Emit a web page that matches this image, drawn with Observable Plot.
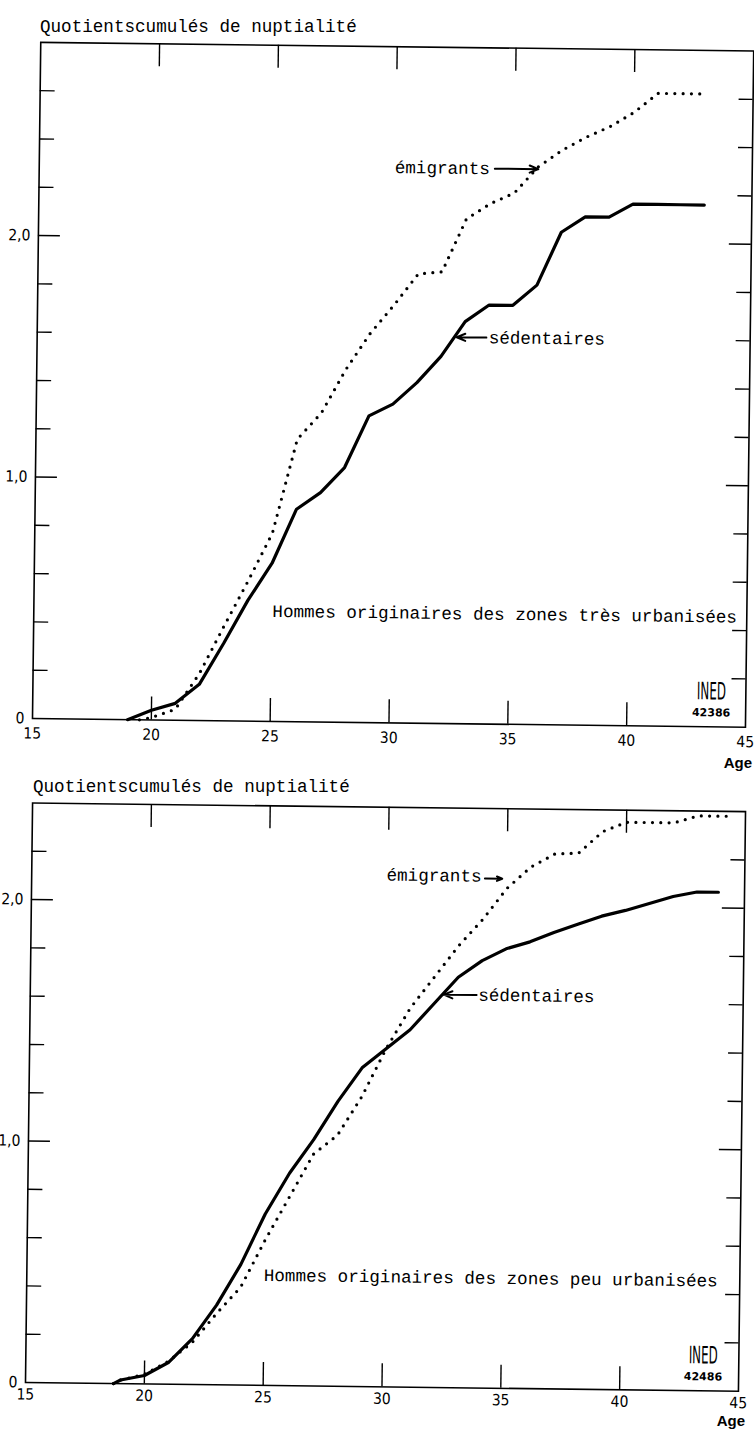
<!DOCTYPE html>
<html>
<head>
<meta charset="utf-8">
<script src="https://cdn.jsdelivr.net/npm/d3@7"></script>
<script src="https://cdn.jsdelivr.net/npm/@observablehq/plot@0.6"></script>
<style>
  html, body { margin: 0; padding: 0; background: #fff; }
  body { width: 754px; height: 1429px; position: relative; overflow: hidden; }
  .panel { position: absolute; width: 754px; height: 780px; transform-origin: 32px 718px; transform: rotate(0.7deg); }
  .panel svg { position: absolute; left: 0; top: 0; }
  .title { position: absolute; font-family: "Liberation Mono", "DejaVu Sans Mono", monospace; font-size: 17.6px; line-height: 20px; white-space: nowrap; color: #000; }
  .agelab { position: absolute; font-family: "Liberation Sans", Arial, sans-serif; font-weight: bold; font-size: 15px; line-height: 17px; color: #000; }
</style>
</head>
<body>
<script>
// ---------------- data ----------------
const TITLE = "Quotientscumulés de nuptialité";
const AGE_LABEL = "Age";
const AGE_TICKS = [15, 20, 25, 30, 35, 40, 45];
const AGE_INNER_TICKS = [20, 25, 30, 35, 40];
const Y_LABEL_TICKS = [0, 1, 2];
const Y_MAJOR_TICKS = [1, 2];
const Y_MINOR_TICKS_1 = [0.2, 0.4, 0.6, 0.8, 1.2, 1.4, 1.6, 1.8, 2.2, 2.4, 2.6];
const Y_MINOR_TICKS_2 = [0.2, 0.4, 0.6, 0.8, 1.2, 1.4, 1.6, 1.8, 2.2];
const SERIES_NAMES = ["sédentaires", "émigrants"];

// Panel 1 : zones très urbanisées
const ageSed1 = [19, 20, 21, 22, 23, 24, 25, 26, 27, 28, 29, 30, 31, 32, 33, 34, 35, 36, 37, 38, 39, 40, 41, 42, 43];
const qSed1   = [0, 0.04, 0.07, 0.15, 0.32, 0.50, 0.655, 0.88, 0.95, 1.055, 1.27, 1.32, 1.41, 1.52, 1.665, 1.735, 1.735, 1.82, 2.04, 2.105, 2.105, 2.16, 2.16, 2.16, 2.16];
const ageEmi1 = [19.5, 20, 21, 22, 23, 24, 25, 26, 27, 28, 29, 30, 31, 32, 33, 34, 35, 36, 37, 38, 39, 40, 41, 42, 43];
const qEmi1   = [0, 0.01, 0.045, 0.195, 0.39, 0.58, 0.78, 1.17, 1.28, 1.46, 1.61, 1.73, 1.86, 1.87, 2.09, 2.155, 2.20, 2.31, 2.38, 2.435, 2.48, 2.54, 2.62, 2.62, 2.62];

// Panel 2 : zones peu urbanisées
const ageSed2 = [18.7, 19, 20, 21, 22, 23, 24, 25, 26, 27, 28, 29, 30, 31, 32, 33, 34, 35, 36, 37, 38, 39, 40, 41, 42, 43, 43.9];
const qSed2   = [0, 0.015, 0.035, 0.09, 0.19, 0.33, 0.50, 0.71, 0.88, 1.02, 1.18, 1.32, 1.40, 1.48, 1.59, 1.70, 1.77, 1.82, 1.85, 1.89, 1.925, 1.96, 1.985, 2.015, 2.045, 2.065, 2.065];
const ageEmi2 = [18.7, 19, 20, 21, 22, 23, 24, 25, 26, 27, 28, 29, 30, 31, 32, 33, 34, 35, 36, 37, 38, 39, 40, 41, 42, 43, 44.4];
const qEmi2   = [0, 0.015, 0.04, 0.095, 0.175, 0.295, 0.405, 0.60, 0.78, 0.96, 1.04, 1.20, 1.40, 1.57, 1.70, 1.83, 1.94, 2.07, 2.16, 2.215, 2.22, 2.31, 2.35, 2.35, 2.35, 2.38, 2.38];

const SUBTITLE_1 = "Hommes originaires des zones très urbanisées";
const SUBTITLE_2 = "Hommes originaires des zones peu urbanisées";
const LOGO_TEXT = "INED";
const CODE_1 = "42386";
const CODE_2 = "42486";

// annotation anchors (data units: age, quotient)
const labels1 = [
  {text: SERIES_NAMES[1], x: 29.96, y: 2.30},
  {text: SERIES_NAMES[0], x: 34.0, y: 1.60},
  {text: SUBTITLE_1, x: 25.04, y: 0.456}
];
const arrows1 = [
  {x1: 34.17, y1: 2.30, x2: 36.0, y2: 2.30},
  {x1: 33.9, y1: 1.60, x2: 32.65, y2: 1.60}
];
const labels2 = [
  {text: SERIES_NAMES[1], x: 29.93, y: 2.12},
  {text: SERIES_NAMES[0], x: 33.85, y: 1.627},
  {text: SUBTITLE_2, x: 24.97, y: 0.456}
];
const arrows2 = [
  {x1: 34.07, y1: 2.11, x2: 34.8, y2: 2.11},
  {x1: 33.78, y1: 1.627, x2: 32.4, y2: 1.627}
];
const logo1 = {x: 43.55, y: 0.145, code: CODE_1, cy: 0.058};
const logo2 = {x: 43.5, y: 0.145, code: CODE_2, cy: 0.058};

// ---------------- drawing ----------------
const MONO = '"Liberation Mono", "DejaVu Sans Mono", monospace';
const NARROW = '"Liberation Sans Narrow", "DejaVu Sans Condensed", "Liberation Sans", sans-serif';
const PX_PER_UNIT = 241.5;
const fmtY = d => d === 0 ? "0" : d.toFixed(1).replace(".", ",");

function toRows(ages, vals) { return ages.map((a, i) => ({age: a, q: vals[i]})); }

function makePanel(cfg) {
  const W = 754, H = 780, mL = 32, mR = 9, mB = 62;
  const mT = (H - mB) - cfg.yMax * PX_PER_UNIT;
  const plotW = W - mL - mR, plotH = H - mT - mB;
  const sed = toRows(cfg.sedAges, cfg.sedVals);
  const emi = toRows(cfg.emiAges, cfg.emiVals);
  const svg = Plot.plot({
    width: W, height: H,
    marginLeft: mL, marginRight: mR, marginTop: mT, marginBottom: mB,
    x: {domain: [15, 45]},
    y: {domain: [0, cfg.yMax]},
    style: {fontFamily: NARROW, fontSize: "15px", color: "#000", background: "transparent", overflow: "visible"},
    marks: [
      Plot.frame({stroke: "#000", strokeWidth: 1.6}),
      // inward ticks
      Plot.ruleY(cfg.yMinor, {y: d => d, insetRight: plotW - 15, stroke: "#000", strokeWidth: 1.4}),
      Plot.ruleY(Y_MAJOR_TICKS, {y: d => d, insetRight: plotW - 22, stroke: "#000", strokeWidth: 1.4}),
      Plot.ruleY(cfg.yMinor, {y: d => d, insetLeft: plotW - 14, stroke: "#000", strokeWidth: 1.4}),
      Plot.ruleY(Y_MAJOR_TICKS, {y: d => d, insetLeft: plotW - 22, stroke: "#000", strokeWidth: 1.4}),
      Plot.ruleX(AGE_INNER_TICKS, {x: d => d, insetBottom: plotH - 23, stroke: "#000", strokeWidth: 1.4}),
      Plot.ruleX(AGE_INNER_TICKS, {x: d => d, insetTop: plotH - 23, stroke: "#000", strokeWidth: 1.4}),
      // axis labels
      Plot.axisX({ticks: AGE_TICKS, tickSize: 0, tickPadding: cfg.xPad, label: null, tickFormat: d => String(d), fontSize: 15.5}),
      Plot.axisY({ticks: Y_LABEL_TICKS, tickSize: 0, tickPadding: 8, label: null, tickFormat: fmtY, fontSize: 15.5}),
      // series
      Plot.line(sed, {x: "age", y: "q", stroke: "#000", strokeWidth: 3.2, strokeLinejoin: "round", strokeLinecap: "round"}),
      Plot.line(emi, {x: "age", y: "q", stroke: "#000", strokeWidth: 3.2, strokeDasharray: "0 8.3", strokeLinecap: "round"}),
      // annotations
      Plot.text(cfg.labels, {x: "x", y: "y", text: "text", textAnchor: "start", fontFamily: MONO, fontSize: 17.6, fill: "#000"}),
      Plot.arrow(cfg.arrows, {x1: "x1", y1: "y1", x2: "x2", y2: "y2", stroke: "#000", strokeWidth: 2, headLength: 7, headAngle: 45}),
      Plot.text([cfg.logo], {x: "x", y: "y", text: () => LOGO_TEXT, fontFamily: NARROW, fontSize: 24, fill: "#000"}),
      Plot.text([cfg.logo], {x: "x", y: "cy", text: "code", fontFamily: '"DejaVu Sans", sans-serif', fontWeight: "bold", fontSize: 11, fill: "#000"})
    ]
  });
  d3.select(svg).selectAll("text").filter(function () { return this.textContent === LOGO_TEXT; })
    .attr("textLength", 29).attr("lengthAdjust", "spacingAndGlyphs");
  return svg;
}

function addPanel(cfg, top, left) {
  const div = document.createElement("div");
  div.className = "panel";
  div.style.top = top + "px";
  div.style.left = left + "px";
  div.appendChild(makePanel(cfg));
  document.body.appendChild(div);
}

function addText(cls, text, style) {
  const d = document.createElement("div");
  d.className = cls;
  d.textContent = text;
  Object.assign(d.style, style);
  document.body.appendChild(d);
}

addPanel({yMax: 2.8, yMinor: Y_MINOR_TICKS_1, sedAges: ageSed1, sedVals: qSed1, emiAges: ageEmi1, emiVals: qEmi1,
          labels: labels1, arrows: arrows1, logo: logo1, xPad: 9}, 0, 0);
addPanel({yMax: 2.4, yMinor: Y_MINOR_TICKS_2, sedAges: ageSed2, sedVals: qSed2, emiAges: ageEmi2, emiVals: qEmi2,
          labels: labels2, arrows: arrows2, logo: logo2, xPad: 6}, 664, -7);

addText("title", TITLE, {left: "40px", top: "17px"});
addText("title", TITLE, {left: "33px", top: "777px"});
addText("agelab", AGE_LABEL, {right: "2px", top: "754px"});
addText("agelab", AGE_LABEL, {right: "9px", top: "1412px"});
</script>
</body>
</html>
